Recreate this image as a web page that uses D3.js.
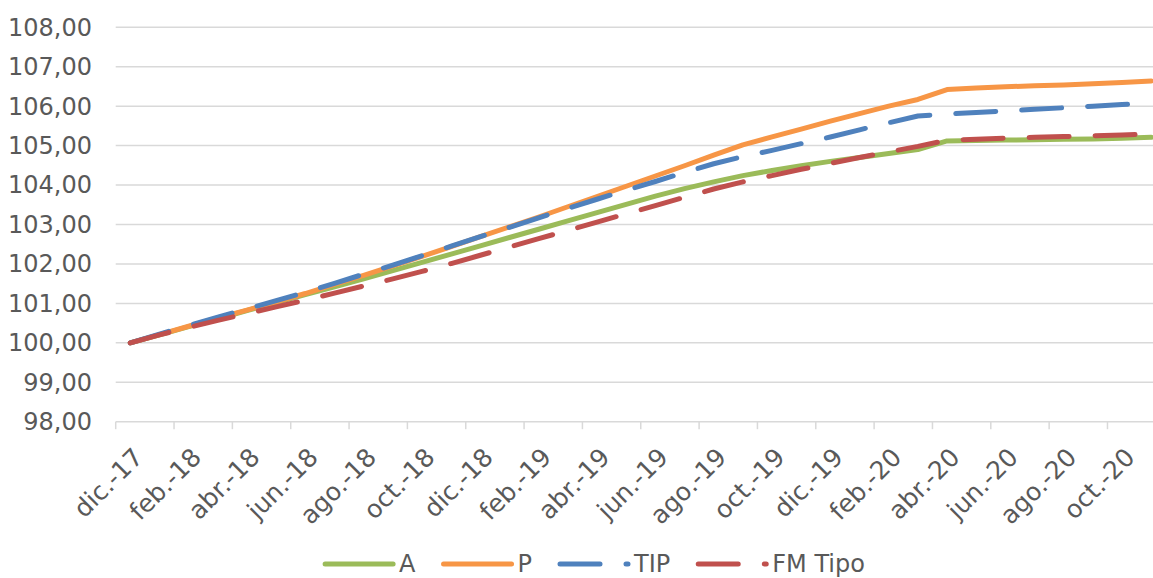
<!DOCTYPE html>
<html>
<head>
<meta charset="utf-8">
<script src="https://cdn.jsdelivr.net/npm/d3@7"></script>
<style>
  html, body { margin: 0; padding: 0; background: #fff; overflow: hidden; }
  svg { display: block; font-family: Verdana, "DejaVu Sans", sans-serif; }
</style>
</head>
<body>
<svg id="chart" width="1153" height="578"></svg>
<script>
// months dic.-17 .. nov.-20
let months = ["dic.-17","ene.-18","feb.-18","mar.-18","abr.-18","may.-18","jun.-18","jul.-18","ago.-18","sep.-18","oct.-18","nov.-18",
              "dic.-18","ene.-19","feb.-19","mar.-19","abr.-19","may.-19","jun.-19","jul.-19","ago.-19","sep.-19","oct.-19","nov.-19",
              "dic.-19","ene.-20","feb.-20","mar.-20","abr.-20","may.-20","jun.-20","jul.-20","ago.-20","sep.-20","oct.-20","nov.-20"];

let serieA = [100.00,100.20,100.41,100.61,100.82,101.02,101.22,101.42,101.62,101.83,102.04,102.25,
              102.46,102.67,102.88,103.09,103.30,103.51,103.72,103.91,104.08,104.24,104.37,104.49,
              104.60,104.70,104.80,104.90,105.12,105.13,105.14,105.15,105.16,105.17,105.19,105.21];
let serieP = [100.00,100.21,100.42,100.63,100.83,101.04,101.25,101.48,101.71,101.95,102.19,102.44,
              102.69,102.94,103.19,103.45,103.71,103.97,104.23,104.49,104.76,105.02,105.22,105.42,
              105.62,105.81,106.00,106.17,106.42,106.46,106.49,106.52,106.54,106.57,106.60,106.64];
let serieTIP = [100.00,100.22,100.44,100.65,100.86,101.07,101.28,101.51,101.74,101.97,102.21,102.45,
                102.69,102.93,103.17,103.41,103.64,103.87,104.09,104.32,104.54,104.72,104.88,105.05,
                105.22,105.40,105.58,105.75,105.80,105.84,105.88,105.92,105.96,106.00,106.04,106.08];
let serieFM = [100.00,100.20,100.39,100.57,100.74,100.91,101.08,101.26,101.44,101.62,101.81,102.01,
               102.22,102.43,102.64,102.85,103.06,103.27,103.48,103.69,103.90,104.08,104.24,104.40,
               104.55,104.70,104.84,104.98,105.14,105.16,105.19,105.21,105.23,105.25,105.27,105.29];

let yTicks = [98,99,100,101,102,103,104,105,106,107,108];

let series = [
  {name: "A",       values: serieA,   color: "#9BBB59", dash: null},
  {name: "P",       values: serieP,   color: "#F79646", dash: null},
  {name: "TIP",     values: serieTIP, color: "#4F81BD", dash: "40,26"},
  {name: "FM Tipo", values: serieFM,  color: "#C0504D", dash: "40,26"}
];

let svg = d3.select("#chart");
let left = 115.7, catW = 29.17;
let x = d3.scaleBand().domain(months).range([left, left + catW * months.length]);
let y = d3.scaleLinear().domain([98, 108]).range([421.7, 27.3]);
let fmt = d => d.toFixed(2).replace(".", ",");

// gridlines
svg.append("g").selectAll("line").data(yTicks).enter().append("line")
   .attr("x1", left).attr("x2", x.range()[1])
   .attr("y1", d => y(d)).attr("y2", d => y(d))
   .attr("stroke", "#D9D9D9").attr("stroke-width", 1.5);

// y labels
svg.append("g").selectAll("text").data(yTicks).enter().append("text")
   .attr("x", 92).attr("y", d => y(d)).attr("dy", "0.35em")
   .attr("text-anchor", "end").attr("font-size", 24).attr("fill", "#595959")
   .text(fmt);

// x tick marks (every 2 categories, on boundaries)
let tickIdx = d3.range(0, months.length + 1, 2);
svg.append("g").selectAll("line").data(tickIdx).enter().append("line")
   .attr("x1", i => left + i * catW).attr("x2", i => left + i * catW)
   .attr("y1", y(98)).attr("y2", y(98) + 7.5)
   .attr("stroke", "#D9D9D9").attr("stroke-width", 1.5);

// x labels
let labelMonths = months.filter((m, i) => i % 2 === 0);
svg.append("g").selectAll("text").data(labelMonths).enter().append("text")
   .attr("transform", d => "translate(" + (x(d) + x.bandwidth() / 2 + 8) + ",452.5) rotate(-45)")
   .attr("dy", "0.35em").attr("text-anchor", "end")
   .attr("font-size", 25).attr("fill", "#595959")
   .text(d => d);

// lines
let line = d3.line()
  .x((d, i) => x(months[i]) + x.bandwidth() / 2)
  .y(d => y(d));

svg.append("g").selectAll("path").data(series).enter().append("path")
   .attr("d", d => line(d.values))
   .attr("fill", "none")
   .attr("stroke", d => d.color)
   .attr("stroke-width", 5)
   .attr("stroke-linejoin", "round")
   .attr("stroke-linecap", "round")
   .attr("stroke-dasharray", d => d.dash);

// legend
let legendY = 564, sampleLen = 68;
let legend = svg.append("g");
let items = legend.selectAll("g").data(series).enter().append("g");
items.append("path")
   .attr("d", "M0,0H" + sampleLen)
   .attr("stroke", d => d.color).attr("stroke-width", 5)
   .attr("stroke-linecap", "round").attr("fill", "none")
   .attr("stroke-dasharray", d => d.dash);
items.append("text")
   .attr("x", sampleLen + 6).attr("dy", "0.35em")
   .attr("font-size", 24).attr("fill", "#595959")
   .text(d => d.name);

let widths = [];
items.each(function() { widths.push(sampleLen + 6 + d3.select(this).select("text").node().getComputedTextLength()); });
let gap = 28;
let total = d3.sum(widths) + gap * (widths.length - 1);
let pos = 595 - total / 2;
items.attr("transform", (d, i) => {
  let t = "translate(" + pos + "," + legendY + ")";
  pos += widths[i] + gap;
  return t;
});
</script>
</body>
</html>
